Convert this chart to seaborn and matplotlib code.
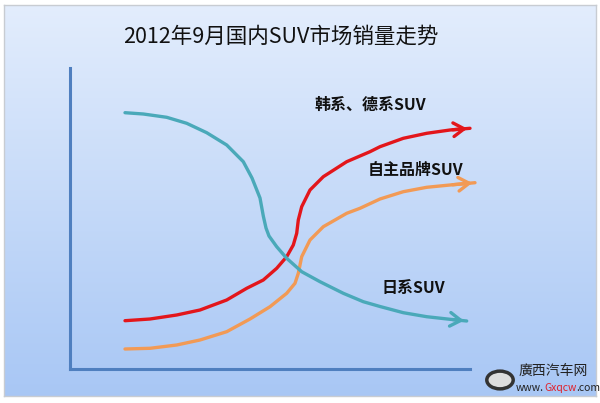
import numpy as np
import matplotlib
matplotlib.use("Agg")
import matplotlib.pyplot as plt
import seaborn as sns

jp_x = [55, 73.3, 96.7, 116.7, 136.7, 156.7, 173.3, 182, 190, 193.3, 196, 199, 206.7, 216.7,
        231.7, 250, 273.3, 293.3, 310, 333.3, 356.7, 380, 396.7]
jp_y = [256.3, 255, 251.7, 245.7, 236.3, 224, 207.3, 191, 171, 153, 141, 133, 122.3, 110.7,
        97.3, 87.3, 75.7, 67.3, 62.5, 56.3, 52.3, 49.7, 48]

kr_de_x = [55, 80, 106.7, 130, 156.7, 176.7, 193.3, 206.7, 216.7, 223.3, 226.7, 228.3, 231.7,
           240, 253.3, 276.7, 300, 310, 333.3, 356.7, 380, 400]
kr_de_y = [48.3, 50, 54, 59, 69, 80.7, 89, 100.7, 112.3, 124, 135.7, 149, 162.3,
           179, 192.3, 207.3, 217.3, 222.3, 230.7, 235.7, 239, 240.7]

own_x = [55, 80, 106.7, 130, 156.7, 180, 200, 216.7, 225, 228.3, 231.7, 240, 253.3, 276.7,
         290, 310, 333.3, 356.7, 380, 405]
own_y = [20, 20.7, 24, 29, 37.3, 50, 62.3, 75.7, 85.7, 95.7, 112.3, 129, 142.3, 155.7,
         160.7, 170, 177.3, 181.7, 184, 186.3]

names = ["韩系、德系SUV", "自主品牌SUV", "日系SUV"]
colors = ["#e3161b", "#f29a55", "#4aa9b9"]
label_pos = [(300, 264), (345, 199), (343, 81)]
title = "2012年9月国内SUV市场销量走势"

sns.set_style("white")
plt.rcParams['font.family'] = ['Noto Sans CJK SC', 'DejaVu Sans']

fig = plt.figure(figsize=(6, 4.03), dpi=100)
fig.patch.set_facecolor("white")

# gradient panel behind everything
bg = fig.add_axes([4 / 600, 7 / 403, 592 / 600, 391 / 403])
grad = np.linspace(0, 1, 256).reshape(-1, 1)
top = np.array([0.89, 0.93, 0.99])
bot = np.array([0.66, 0.78, 0.96])
img = top + grad[..., None] * (bot - top)
bg.imshow(img, aspect="auto", extent=[0, 1, 0, 1])
bg.set_xticks([])
bg.set_yticks([])
for s in bg.spines.values():
    s.set_color("#c8ccd2")
    s.set_linewidth(1)

ax = fig.add_axes([70 / 600, 34 / 403, 400 / 600, 301 / 403])
ax.patch.set_alpha(0)
ax.set_xlim(0, 400)
ax.set_ylim(0, 301)
ax.set_xticks([])
ax.set_yticks([])
for side in ["top", "right"]:
    ax.spines[side].set_visible(False)
for side in ["left", "bottom"]:
    ax.spines[side].set_color("#4f7fbf")
    ax.spines[side].set_linewidth(2.2)

data = [(kr_de_x, kr_de_y), (own_x, own_y), (jp_x, jp_y)]
for name, (xs, ys), col, pos in zip(names, data, colors, label_pos):
    sns.lineplot(x=xs, y=ys, color=col, lw=2.4, ax=ax, estimator=None, sort=False,
                 solid_capstyle="round", solid_joinstyle="round", clip_on=False)
    ax.annotate("", xy=(xs[-1], ys[-1]), xytext=(xs[-2], ys[-2]),
                arrowprops=dict(arrowstyle="->,head_length=0.55,head_width=0.35",
                                color=col, lw=2.4, mutation_scale=14),
                annotation_clip=False)
    ax.text(pos[0], pos[1], name, ha="center", va="center", fontsize=11.5,
            fontweight="bold", color="#111111", clip_on=False)

fig.text(281 / 600, 1 - 37 / 403, title, ha="center", va="center", fontsize=15.5, color="#111111")

# watermark
fig.text(519 / 600, 1 - 371 / 403, "廣西汽车网", ha="left", va="center", fontsize=10, color="#222222")
fig.canvas.draw()
r = fig.canvas.get_renderer()
x0 = 516
for part, c in [("www.", "#222222"), ("Gxqcw", "#e0202a"), (".com", "#222222")]:
    t = fig.text(x0 / 600, 1 - 388 / 403, part, ha="left", va="center", fontsize=7.5, color=c)
    x0 += t.get_window_extent(r).width
circ = plt.Circle((500 / 600, 1 - 380 / 403), 0.022, transform=fig.transFigure,
                  facecolor="#dddddd", edgecolor="#333333", lw=2.5)
fig.patches.append(circ)

fig.savefig("out.png", dpi=100)
